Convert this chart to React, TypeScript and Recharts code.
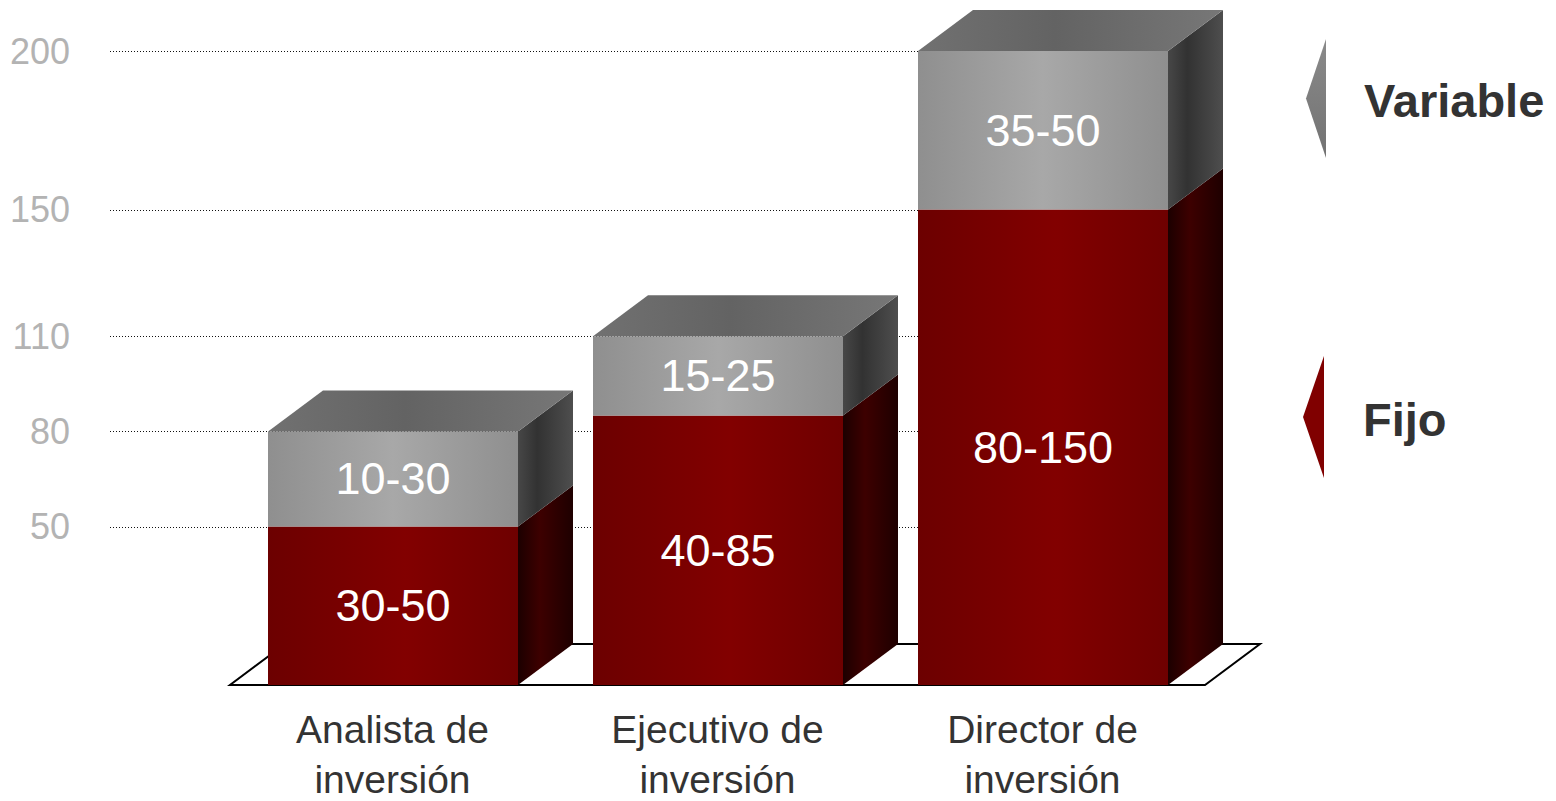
import React from 'react';
import { BarChart, Bar, XAxis, YAxis, CartesianGrid, LabelList, Legend } from 'recharts';

// ---------- data ----------
const categories = ['Analista de inversión', 'Ejecutivo de inversión', 'Director de inversión'];
const fijo = [50, 85, 150];
const variable = [30, 25, 50];
const fijoLabels = ['30-50', '40-85', '80-150'];
const variableLabels = ['10-30', '15-25', '35-50'];
const yTicks = [50, 80, 110, 150, 200];
const seriesNames = { fijo: 'Fijo', variable: 'Variable' };

const data = categories.map((c, i) => ({
  category: c,
  fijo: fijo[i],
  variable: variable[i],
  fijoLabel: fijoLabels[i],
  variableLabel: variableLabels[i],
}));

// ---------- layout ----------
const W = 1556;
const H = 801;
const MARGIN = { top: 51, right: 351, bottom: 0, left: 0 };
const Y_AXIS_W = 230;
const X_AXIS_H = 116;
const DX = 55;
const DY = 41;
const PLOT_LEFT = MARGIN.left + Y_AXIS_W;
const PLOT_RIGHT = W - MARGIN.right;
const PLOT_BOTTOM = H - MARGIN.bottom - X_AXIS_H;
const FONT = '"Liberation Sans", Arial, Helvetica, sans-serif';

const Defs = () => (
  <defs>
    <linearGradient id="redFront" x1="0" y1="0" x2="1" y2="0">
      <stop offset="0" stopColor="#6c0000" />
      <stop offset="0.55" stopColor="#820000" />
      <stop offset="1" stopColor="#6e0000" />
    </linearGradient>
    <linearGradient id="redSide" x1="0" y1="0" x2="1" y2="0">
      <stop offset="0" stopColor="#1c0000" />
      <stop offset="0.4" stopColor="#3d0000" />
      <stop offset="1" stopColor="#1e0000" />
    </linearGradient>
    <linearGradient id="grayFront" x1="0" y1="0" x2="1" y2="0">
      <stop offset="0" stopColor="#8f8f8f" />
      <stop offset="0.5" stopColor="#a8a8a8" />
      <stop offset="1" stopColor="#8f8f8f" />
    </linearGradient>
    <linearGradient id="graySide" x1="0" y1="0" x2="1" y2="0">
      <stop offset="0" stopColor="#474747" />
      <stop offset="0.35" stopColor="#323232" />
      <stop offset="1" stopColor="#4e4e4e" />
    </linearGradient>
    <linearGradient id="grayTop" x1="0" y1="0" x2="1" y2="0">
      <stop offset="0" stopColor="#717171" />
      <stop offset="0.45" stopColor="#636363" />
      <stop offset="1" stopColor="#777777" />
    </linearGradient>
  </defs>
);

const sidePoints = (x: number, y: number, w: number, h: number) =>
  `${x + w},${y} ${x + w + DX},${y - DY} ${x + w + DX},${y + h - DY} ${x + w},${y + h}`;

const FijoShape = (props: any) => {
  const { x, y, width, height, index } = props;
  const base = y + height;
  return (
    <g>
      {index === 0 && (
        <g>
          <Defs />
          <polygon
            points={`${PLOT_LEFT},${base} ${PLOT_RIGHT},${base} ${PLOT_RIGHT + DX},${base - DY} ${PLOT_LEFT + DX},${base - DY}`}
            fill="#ffffff"
            stroke="#000000"
            strokeWidth={2}
          />
        </g>
      )}
      <rect x={x} y={y} width={width} height={height} fill="url(#redFront)" />
      <polygon points={sidePoints(x, y, width, height)} fill="url(#redSide)" />
    </g>
  );
};

const VariableShape = (props: any) => {
  const { x, y, width, height } = props;
  return (
    <g>
      <rect x={x} y={y} width={width} height={height} fill="url(#grayFront)" />
      <polygon points={sidePoints(x, y, width, height)} fill="url(#graySide)" />
      <polygon
        points={`${x},${y} ${x + DX},${y - DY} ${x + width + DX},${y - DY} ${x + width},${y}`}
        fill="url(#grayTop)"
      />
    </g>
  );
};

const ValueLabel = (props: any) => {
  const { x, y, width, height, value } = props;
  return (
    <text
      x={Number(x) + Number(width) / 2}
      y={Number(y) + Number(height) / 2}
      textAnchor="middle"
      dominantBaseline="central"
      fill="#ffffff"
      fontSize={45}
      fontFamily={FONT}
    >
      {value}
    </text>
  );
};

const XTick = (props: any) => {
  const { x, y, payload } = props;
  const s = String(payload.value);
  const k = s.lastIndexOf(' ');
  const lines = [s.slice(0, k), s.slice(k + 1)];
  return (
    <text x={x} y={y} textAnchor="middle" fill="#333333" fontSize={39} fontFamily={FONT}>
      <tspan x={x} dy={58}>{lines[0]}</tspan>
      <tspan x={x} dy={50}>{lines[1]}</tspan>
    </text>
  );
};

const LEGEND_SLOTS = [
  { top: 39, bottom: 158, edgeX: 36, tipX: 16, textX: 74 },
  { top: 356, bottom: 478, edgeX: 34, tipX: 13, textX: 73 },
];

const LegendContent = (props: any) => {
  const items = [...(props.payload || [])].reverse();
  return (
    <svg width={266} height={801} style={{ display: 'block' }}>
      <defs>
        <linearGradient id="legGray" x1="0" y1="0" x2="0" y2="1">
          <stop offset="0" stopColor="#8a8a8a" />
          <stop offset="1" stopColor="#727272" />
        </linearGradient>
      </defs>
      {items.map((it: any, i: number) => {
        const s = LEGEND_SLOTS[i];
        if (!s) return null;
        const mid = (s.top + s.bottom) / 2;
        const isGray = String(it.color).toLowerCase() === '#808080';
        return (
          <g key={i}>
            <polygon
              points={`${s.edgeX},${s.top} ${s.edgeX},${s.bottom} ${s.tipX},${mid}`}
              fill={isGray ? 'url(#legGray)' : it.color}
            />
            <text
              x={s.textX}
              y={mid + 2}
              dominantBaseline="central"
              fill="#333333"
              fontSize={47}
              fontWeight="bold"
              fontFamily={FONT}
            >
              {it.value}
            </text>
          </g>
        );
      })}
    </svg>
  );
};

const GridLine = (p: any) => {
  if (Math.abs(p.y1 - PLOT_BOTTOM) < 2) return <g key={`grid-${p.index}`} />;
  const yy = Math.round(p.y1) + 0.5;
  return (
    <line
      key={`grid-${p.index}`}
      x1={p.x1 - 120}
      x2={p.x2}
      y1={yy}
      y2={yy}
      stroke="#111111"
      strokeWidth={1}
      strokeDasharray="1 2"
    />
  );
};

export default function App() {
  return (
    <div style={{ position: 'absolute', left: 0, top: 0, width: W, height: H, background: '#fff', fontFamily: FONT }}>
      <BarChart width={W} height={H} data={data} margin={MARGIN} barSize={250}>
        <CartesianGrid vertical={false} horizontal={GridLine} />
        <XAxis
          dataKey="category"
          height={X_AXIS_H}
          axisLine={false}
          tickLine={false}
          tickSize={0}
          tickMargin={0}
          interval={0}
          tick={<XTick />}
        />
        <YAxis
          width={Y_AXIS_W}
          domain={[0, 200]}
          ticks={yTicks}
          interval={0}
          axisLine={false}
          tickLine={false}
          tickSize={0}
          tickMargin={160}
          tick={{ fill: '#b3b3b3', fontSize: 36, fontFamily: FONT }}
        />
        <Legend
          layout="vertical"
          align="center"
          verticalAlign="middle"
          wrapperStyle={{ position: 'absolute', left: 1290, top: 0, width: 266, height: 801 }}
          content={<LegendContent />}
        />
        <Bar
          dataKey="fijo"
          name={seriesNames.fijo}
          stackId="a"
          fill="#800000"
          shape={<FijoShape />}
          isAnimationActive={false}
        >
          <LabelList dataKey="fijoLabel" content={<ValueLabel />} />
        </Bar>
        <Bar
          dataKey="variable"
          name={seriesNames.variable}
          stackId="a"
          fill="#808080"
          shape={<VariableShape />}
          isAnimationActive={false}
        >
          <LabelList dataKey="variableLabel" content={<ValueLabel />} />
        </Bar>
      </BarChart>
    </div>
  );
}
